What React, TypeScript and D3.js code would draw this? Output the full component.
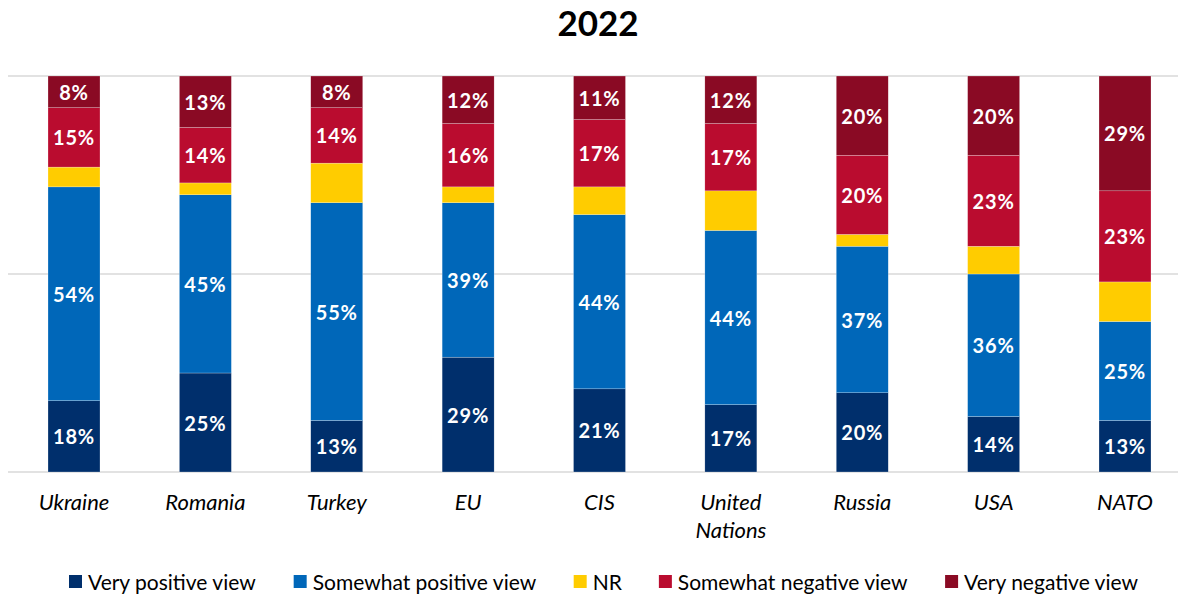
// @ts-nocheck
import * as d3 from "d3";
import React from "react";

const categories = ["Ukraine", "Romania", "Turkey", "EU", "CIS", "United Nations", "Russia", "USA", "NATO"];
const veryPositive = [18, 25, 13, 29, 21, 17, 20, 14, 13];
const somewhatPositive = [54, 45, 55, 39, 44, 44, 37, 36, 25];
const noReply = [5, 3, 10, 4, 7, 10, 3, 7, 10];
const somewhatNegative = [15, 14, 14, 16, 17, 17, 20, 23, 23];
const veryNegative = [8, 13, 8, 12, 11, 12, 20, 20, 29];

const seriesKeys = ["vp", "sp", "nr", "sn", "vn"];
const seriesNames = ["Very positive view", "Somewhat positive view", "NR", "Somewhat negative view", "Very negative view"];
const seriesColors = ["#002F6C", "#0067B9", "#FFCC00", "#BA0C2F", "#8A0A24"];
const showLabel = [true, true, false, true, true];
const gridTicks = [0, 50, 100];

const W = 1186;
const H = 597;
const FONT = "Lato, 'Open Sans', sans-serif";

function measure(text, font) {
  const c = document.createElement("canvas").getContext("2d");
  c.font = font;
  return c.measureText(text).width;
}

export default function App() {
  const rows = categories.map((c, i) => ({
    cat: c,
    vp: veryPositive[i],
    sp: somewhatPositive[i],
    nr: noReply[i],
    sn: somewhatNegative[i],
    vn: veryNegative[i],
  }));
  const stacked = d3.stack().keys(seriesKeys)(rows);

  const x = d3.scalePoint().domain(categories).range([74, 1125]);
  const y = d3.scaleLinear().domain([0, 100]).range([472, 76]);
  const barW = 52;

  // legend: spread between 69 and 1139 like the original
  const sq = 13;
  const gapSqText = 6;
  const legendFont = 21;
  const widths = seriesNames.map((n) => sq + gapSqText + measure(n, `${legendFont}px Lato`));
  const legendL = 69;
  const legendR = 1139;
  const gapItems = (legendR - legendL - d3.sum(widths)) / (seriesNames.length - 1);
  let lx = legendL;
  const legendItems = seriesNames.map((n, i) => {
    const item = { x: lx, name: n, color: seriesColors[i] };
    lx += widths[i] + gapItems;
    return item;
  });

  return (
    <svg width={W} height={H} style={{ position: "absolute", left: 0, top: 0, background: "#fff" }} fontFamily={FONT}>
      <text x={598} y={22} textAnchor="middle" dominantBaseline="central" fontSize={35} fontWeight="bold" fill="#000">
        2022
      </text>

      {gridTicks.map((t) => (
        <line key={t} x1={8} x2={1178} y1={y(t)} y2={y(t)} stroke="#d9d9d9" strokeWidth={1.5} />
      ))}

      {stacked.map((s, si) => (
        <g key={s.key}>
          {s.map((d, i) => (
            <rect
              key={i}
              x={x(categories[i]) - barW / 2}
              y={y(d[1])}
              width={barW}
              height={y(d[0]) - y(d[1])}
              fill={seriesColors[si]}
              stroke="#fff"
              strokeWidth={0.4}
              strokeOpacity={0.6}
            />
          ))}
          {showLabel[si] &&
            s.map((d, i) => (
              <text
                key={"t" + i}
                x={x(categories[i])}
                y={(y(d[0]) + y(d[1])) / 2}
                textAnchor="middle"
                dominantBaseline="central"
                fill="#fff"
                fontWeight="bold"
                fontSize={20}
                letterSpacing={0.8}
              >
                {d[1] - d[0]}%
              </text>
            ))}
        </g>
      ))}

      {categories.map((c) => {
        const parts = c === "United Nations" ? ["United", "Nations"] : [c];
        return (
          <text key={c} x={x(c)} y={510} textAnchor="middle" fontSize={22} fontStyle="italic" fill="#000">
            {parts.map((p, j) => (
              <tspan key={j} x={x(c)} dy={j === 0 ? 0 : 28}>
                {p}
              </tspan>
            ))}
          </text>
        );
      })}

      {legendItems.map((it) => (
        <g key={it.name}>
          <rect x={it.x} y={575} width={sq} height={sq} fill={it.color} />
          <text x={it.x + sq + gapSqText} y={581} dominantBaseline="central" fontSize={legendFont} fill="#000">
            {it.name}
          </text>
        </g>
      ))}
    </svg>
  );
}
